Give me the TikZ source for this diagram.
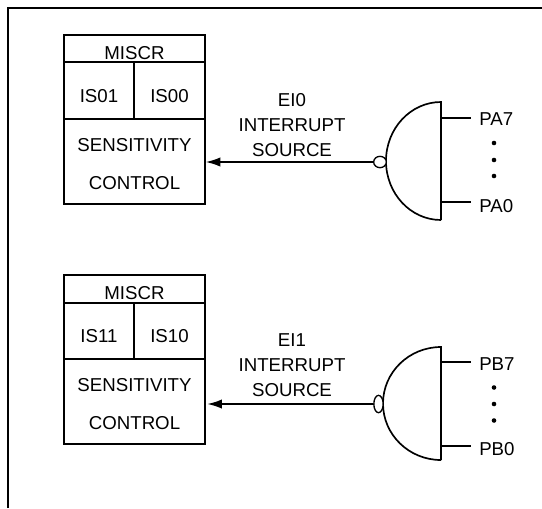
\documentclass[tikz,border=0pt]{standalone}
\usepackage{fontspec}
\setmainfont{Liberation Sans}
\usetikzlibrary{shapes,arrows.meta}
\tikzset{
  wire/.style={line width=1.25pt},
  frameline/.style={line width=1.5pt},
  cell/.style={draw,line width=1.4pt,inner sep=0pt,outer sep=0pt,align=center,font=\fontsize{14}{16}\selectfont},
  pinlabel/.style={anchor=west,inner sep=0pt,font=\fontsize{14}{16}\selectfont},
  srclabel/.style={align=center,inner sep=0pt,font=\fontsize{14}{18.7}\selectfont},
  bubble/.style={draw,ellipse,line width=1pt,inner sep=0pt,fill=white},
  tip/.style={-{Latex[length=11pt,width=7pt]}}
}
\begin{document}
\begin{tikzpicture}[x=0.75pt,y=-0.75pt]
\useasboundingbox (0,0) rectangle (542,508);
\coordinate (framea) at (8,508);
\coordinate (frameb) at (8,8);
\coordinate (framec) at (542,8);
\draw[frameline](framea)--(frameb)--(framec);
% upper register
\node[cell,minimum width=105.75pt,minimum height=20.25pt,text height=16pt](miscr0) at (134.5,48.5){MISCR};
\node[cell,minimum width=52.5pt,minimum height=42.75pt,text height=18.3pt](is01) at (99,90.5){IS01};
\node[cell,minimum width=53.25pt,minimum height=42.75pt,text height=18.3pt](is00) at (169.5,90.5){IS00};
\node[cell,minimum width=105.75pt,minimum height=63.75pt](sense0) at (134.5,161.5){\rule{0pt}{13.7pt}SENSITIVITY\\[12.3pt]CONTROL};
% lower register
\node[cell,minimum width=105.75pt,minimum height=21pt,text height=16pt](miscr1) at (134.5,289){MISCR};
\node[cell,minimum width=52.5pt,minimum height=42pt,text height=16.5pt](is11) at (99,331.5){IS11};
\node[cell,minimum width=53.25pt,minimum height=42pt,text height=16.5pt](is10) at (169.5,331.5){IS10};
\node[cell,minimum width=105.75pt,minimum height=63.75pt](sense1) at (134.5,401.5){\rule{0pt}{13.7pt}SENSITIVITY\\[13pt]CONTROL};
% upper gate
\coordinate (gatea0) at (441,102);
\coordinate (gateb0) at (441,220);
\draw[wire](gateb0)--(gatea0) arc[start angle=270,end angle=90,x radius=55,y radius=59];
\node[bubble,minimum width=9.5pt,minimum height=8.5pt](bub0) at (380,162){};
\coordinate (pina7) at (441,118);
\coordinate (pina0) at (441,202);
\node[pinlabel](pa7) at (479,119){PA7};
\node[pinlabel](pa0) at (479,206){PA0};
\draw[wire](pina7)--(471,118);
\draw[wire](pina0)--(471,202);
\foreach \y in {143,160,176}{\fill(494,\y)circle(2.3);}
\draw[wire,tip,shorten >=0.5pt](bub0.west)--(bub0.west-|sense0.east);
\node[srclabel](src0) at (292,125){EI0\\INTERRUPT\\SOURCE};
% lower gate
\coordinate (gatea1) at (441,347);
\coordinate (gateb1) at (441,460);
\draw[wire](gateb1)--(gatea1) arc[start angle=270,end angle=90,x radius=58,y radius=56.5];
\node[bubble,minimum width=7pt,minimum height=13pt](bub1) at (378.5,404){};
\coordinate (pinb7) at (441,362);
\coordinate (pinb0) at (441,446);
\node[pinlabel](pb7) at (479,364){PB7};
\node[pinlabel](pb0) at (479,449){PB0};
\draw[wire](pinb7)--(471,362);
\draw[wire](pinb0)--(471,446);
\foreach \y in {387.5,404,420.5}{\fill(494,\y)circle(2.3);}
\draw[wire,tip,shorten >=1.7pt](bub1.west)--(bub1.west-|sense1.east);
\node[srclabel](src1) at (292,365){EI1\\INTERRUPT\\SOURCE};
\end{tikzpicture}
\end{document}
